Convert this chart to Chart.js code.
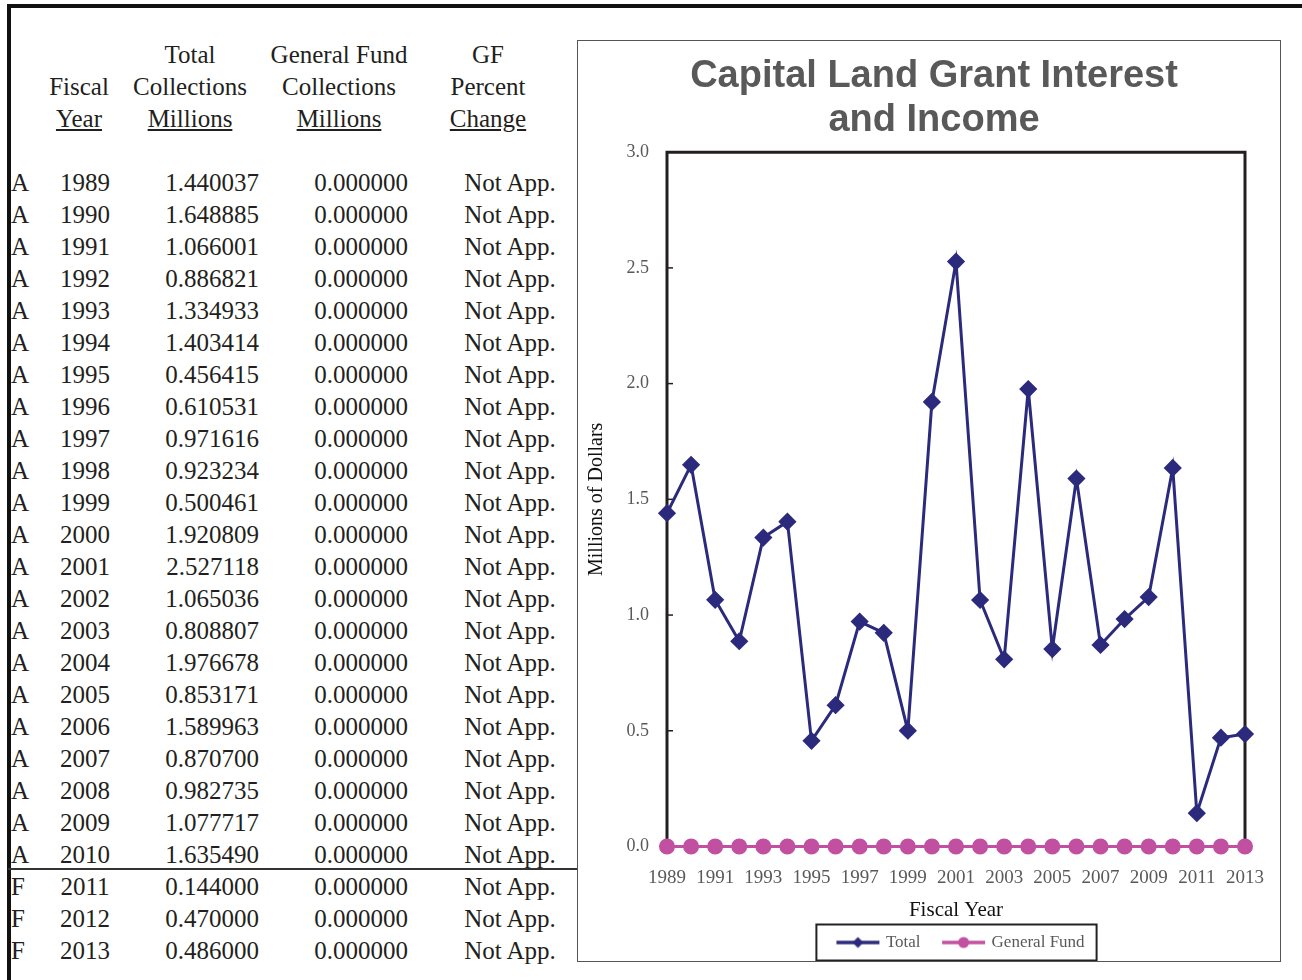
<!DOCTYPE html>
<html>
<head>
<meta charset="utf-8">
<script src="https://cdn.jsdelivr.net/npm/chart.js@4.4.1/dist/chart.umd.min.js"></script>
<style>
  html, body { margin: 0; padding: 0; background: #fff; }
  body { width: 1302px; height: 980px; position: relative; overflow: hidden;
         font-family: "Liberation Serif", "Times New Roman", serif; color: #231f20; }
  .marco-sup { position: absolute; left: 7px; top: 4px; width: 1295px; height: 4px; background: #111; }
  .marco-izq { position: absolute; left: 7px; top: 4px; width: 4px; height: 976px; background: #111; }
  .celda { position: absolute; font-size: 25px; line-height: 32px; white-space: nowrap; }
  .sub { text-decoration: underline; }
  .separador { position: absolute; left: 8px; top: 868px; width: 570px; height: 2px; background: #333; }
  .caja { position: absolute; left: 577px; top: 40px; width: 704px; height: 922px;
          border: 1px solid #555; box-sizing: border-box; }
  #grafico { position: absolute; left: 578px; top: 41px; }
</style>
</head>
<body>
<div class="marco-sup"></div>
<div class="marco-izq"></div>
<div id="tabla"></div>
<div class="separador"></div>
<div class="caja"></div>
<canvas id="grafico" width="712" height="920"></canvas>

<script>
// Tabla de recaudación + gráfico de línea (Total vs General Fund).
// Los valores salen de la tabla del reporte; A = real, F = proyectado.

const ANIOS = ["1989", "1990", "1991", "1992", "1993", "1994", "1995", "1996", "1997",
  "1998", "1999", "2000", "2001", "2002", "2003", "2004", "2005", "2006", "2007",
  "2008", "2009", "2010", "2011", "2012", "2013"];
const ESTADO = ["A", "A", "A", "A", "A", "A", "A", "A", "A", "A", "A", "A", "A",
  "A", "A", "A", "A", "A", "A", "A", "A", "A", "F", "F", "F"];
const TOTAL = [1.440037, 1.648885, 1.066001, 0.886821, 1.334933, 1.403414, 0.456415,
  0.610531, 0.971616, 0.923234, 0.500461, 1.920809, 2.527118, 1.065036, 0.808807,
  1.976678, 0.853171, 1.589963, 0.870700, 0.982735, 1.077717, 1.635490, 0.144000,
  0.470000, 0.486000];
const FONDO_GENERAL = [0, 0, 0, 0, 0, 0, 0, 0, 0, 0, 0, 0, 0, 0, 0, 0, 0, 0, 0, 0,
  0, 0, 0, 0, 0];
const CAMBIO_GF = ["Not App.", "Not App.", "Not App.", "Not App.", "Not App.", "Not App.",
  "Not App.", "Not App.", "Not App.", "Not App.", "Not App.", "Not App.", "Not App.",
  "Not App.", "Not App.", "Not App.", "Not App.", "Not App.", "Not App.", "Not App.",
  "Not App.", "Not App.", "Not App.", "Not App.", "Not App."];

const COLOR_TOTAL = "#2b2a7c";
const COLOR_GF = "#c150a0";
const COLOR_TEXTO_EJE = "#595959";
const SERIF = "'Liberation Serif', 'Times New Roman', serif";

// --- tabla (texto HTML posicionado) ---
const tabla = document.getElementById("tabla");
function celda(texto, x, yCentro, alinear, clase) {
  const d = document.createElement("div");
  d.className = "celda" + (clase ? " " + clase : "");
  d.textContent = texto;
  d.style.top = (yCentro - 16) + "px";
  if (alinear === "center") { d.style.left = (x - 100) + "px"; d.style.width = "200px"; d.style.textAlign = "center"; }
  else if (alinear === "right") { d.style.left = (x - 200) + "px"; d.style.width = "200px"; d.style.textAlign = "right"; }
  else d.style.left = x + "px";
  tabla.appendChild(d);
}

celda("Total", 190, 55, "center");
celda("General Fund", 339, 55, "center");
celda("GF", 488, 55, "center");
celda("Fiscal", 79, 87, "center");
celda("Collections", 190, 87, "center");
celda("Collections", 339, 87, "center");
celda("Percent", 488, 87, "center");
celda("Year", 79, 119, "center", "sub");
celda("Millions", 190, 119, "center", "sub");
celda("Millions", 339, 119, "center", "sub");
celda("Change", 488, 119, "center", "sub");

ANIOS.forEach((anio, i) => {
  const y = 183 + 32 * i;
  celda(ESTADO[i], 11, y, "left");
  celda(anio, 85, y, "center");
  celda(TOTAL[i].toFixed(6), 259, y, "right");
  celda(FONDO_GENERAL[i].toFixed(6), 408, y, "right");
  celda(CAMBIO_GF[i], 510, y, "center");
});

// --- gráfico ---
// icono de leyenda: tramo de línea con el marcador en el medio
function iconoLeyenda(color, forma) {
  const c = document.createElement("canvas");
  c.width = 56; c.height = 16;
  const ctx = c.getContext("2d");
  ctx.strokeStyle = color; ctx.lineWidth = 3.5;
  ctx.beginPath(); ctx.moveTo(12, 8); ctx.lineTo(55, 8); ctx.stroke();
  ctx.fillStyle = color;
  const cx = 33.5;
  ctx.beginPath();
  if (forma === "rombo") {
    ctx.moveTo(cx, 2.5); ctx.lineTo(cx + 5.5, 8); ctx.lineTo(cx, 13.5); ctx.lineTo(cx - 5.5, 8); ctx.closePath();
  } else {
    ctx.arc(cx, 8, 5.5, 0, Math.PI * 2);
  }
  ctx.fill();
  return c;
}
const ICONOS = [iconoLeyenda(COLOR_TOTAL, "rombo"), iconoLeyenda(COLOR_GF, "circulo")];

// marco negro del área de trazado + marcas hacia adentro en el eje Y
const marcoPlot = {
  id: "marcoPlot",
  beforeDatasetsDraw(chart) {
    const { ctx, chartArea: a, scales: { y } } = chart;
    ctx.save();
    ctx.strokeStyle = "#231f20";
    ctx.lineWidth = 3;
    ctx.beginPath();
    ctx.moveTo(a.left, a.bottom); ctx.lineTo(a.left, a.top);
    ctx.lineTo(a.right, a.top); ctx.lineTo(a.right, a.bottom);
    ctx.stroke();
    ctx.lineWidth = 1.5;
    y.ticks.forEach(t => {
      const py = y.getPixelForValue(t.value);
      ctx.beginPath(); ctx.moveTo(a.left, py); ctx.lineTo(a.left + 6, py); ctx.stroke();
    });
    ctx.restore();
  },
};

// recuadro alrededor de la leyenda
const cajaLeyenda = {
  id: "cajaLeyenda",
  afterDraw(chart) {
    const cajas = chart.legend.legendHitBoxes;
    if (!cajas || !cajas.length) return;
    const ultima = cajas[cajas.length - 1];
    const x1 = cajas[0].left + 9 - 20;
    const x2 = ultima.left + ultima.width + 12;
    const yc = cajas[0].top + 8.5;
    const ctx = chart.ctx;
    ctx.save();
    ctx.strokeStyle = "#222";
    ctx.lineWidth = 2;
    ctx.strokeRect(x1, yc - 18, x2 - x1, 36);
    ctx.restore();
  },
};

new Chart(document.getElementById("grafico"), {
  type: "line",
  data: {
    labels: ANIOS,
    datasets: [
      {
        label: "Total",
        data: TOTAL,
        borderColor: COLOR_TOTAL,
        backgroundColor: COLOR_TOTAL,
        borderWidth: 3,
        pointStyle: "rectRot",
        pointRadius: 7,
        tension: 0,
        clip: false,
      },
      {
        label: "General Fund",
        data: FONDO_GENERAL,
        borderColor: COLOR_GF,
        backgroundColor: COLOR_GF,
        borderWidth: 3,
        pointStyle: "circle",
        pointRadius: 6.5,
        tension: 0,
        clip: false,
      },
    ],
  },
  options: {
    responsive: false,
    animation: false,
    // padding izquierdo para centrar el título como en el original
    layout: { padding: { left: 45, right: 45, top: 0, bottom: 0 } },
    plugins: {
      tooltip: { enabled: false },
      title: {
        display: true,
        text: ["Capital Land Grant Interest", "and Income"],
        color: "#595959",
        font: { family: "'Liberation Sans', Arial, sans-serif", size: 38, weight: "bold", lineHeight: 1.16 },
        padding: { top: 13, bottom: 10 },
      },
      legend: {
        position: "bottom",
        fullSize: false,
        labels: {
          usePointStyle: true,
          pointStyleWidth: 50,
          padding: 12.5,
          color: COLOR_TEXTO_EJE,
          font: { family: SERIF, size: 17 },
          generateLabels(chart) {
            const items = Chart.defaults.plugins.legend.labels.generateLabels(chart);
            return items.map((it, i) => ({ ...it, pointStyle: ICONOS[i] }));
          },
        },
      },
    },
    scales: {
      x: {
        grid: { display: false, drawTicks: false },
        border: { display: false },
        ticks: {
          autoSkip: false,
          maxRotation: 0,
          padding: 20,
          color: COLOR_TEXTO_EJE,
          font: { family: SERIF, size: 19 },
          callback: (v, i) => (i % 2 === 0 ? ANIOS[i] : ""),
        },
        title: {
          display: true,
          text: "Fiscal Year",
          color: "#111",
          font: { family: SERIF, size: 21, lineHeight: 1.05 },
          padding: { top: 0, bottom: 0 },
        },
        afterFit(scale) { scale.height = 75; },
      },
      y: {
        min: 0,
        max: 3,
        grid: { display: false, drawTicks: false },
        border: { display: false },
        ticks: {
          stepSize: 0.5,
          padding: 18,
          color: COLOR_TEXTO_EJE,
          font: { family: SERIF, size: 18 },
          callback: v => v.toFixed(1),
        },
        title: {
          display: true,
          text: "Millions of Dollars",
          color: "#111",
          font: { family: SERIF, size: 20 },
          padding: { top: -38, bottom: 0 },
        },
        afterFit(scale) { scale.width = 44; },
      },
    },
  },
  plugins: [marcoPlot, cajaLeyenda],
});
</script>
</body>
</html>
